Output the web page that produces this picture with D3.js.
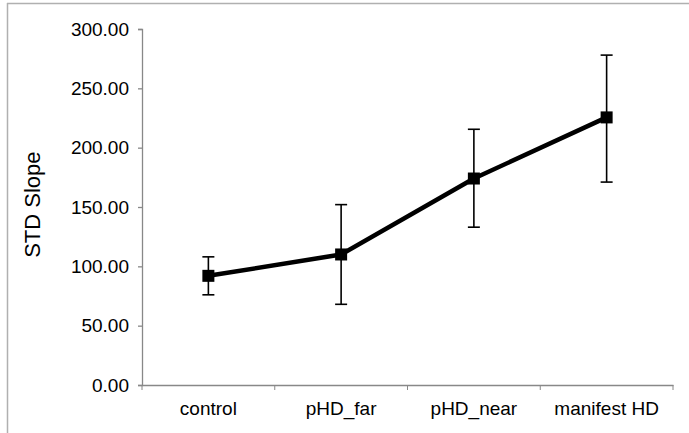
<!DOCTYPE html>
<html>
<head>
<meta charset="utf-8">
<script src="https://cdn.jsdelivr.net/npm/d3@7"></script>
<style>
  body { margin: 0; background: #fff; }
  text { font-family: "Liberation Sans", Arial, sans-serif; fill: #000; }
</style>
</head>
<body>
<svg width="689" height="433"></svg>
<script>
var groups = ["control", "pHD_far", "pHD_near", "manifest HD"];
var means  = [92, 110, 174, 225.5];
var upper  = [108, 152, 215.5, 278];
var lower  = [76, 68, 133, 171];
var yTicks = [0, 50, 100, 150, 200, 250, 300];

var svg = d3.select("svg"),
    width = +svg.attr("width"),
    height = +svg.attr("height");

var margin = {top: 29, right: 16, bottom: 48, left: 142};

// frame around the chart area (only top and left visible)
svg.append("line").attr("x1", 7).attr("x2", width).attr("y1", 3.5).attr("y2", 3.5)
    .attr("stroke", "#b0b0b0").attr("stroke-width", 1.5);
svg.append("line").attr("x1", 7.5).attr("x2", 7.5).attr("y1", 3).attr("y2", height)
    .attr("stroke", "#b0b0b0").attr("stroke-width", 1.5);

var x = d3.scaleBand()
    .domain(groups)
    .range([margin.left, width - margin.right]);

var y = d3.scaleLinear()
    .domain([0, 300])
    .range([height - margin.bottom, margin.top]);

// y axis
var yAxis = svg.append("g")
    .attr("transform", "translate(" + margin.left + ",0)")
    .call(d3.axisLeft(y).tickValues(yTicks).tickSize(4).tickPadding(9).tickFormat(d3.format(".2f")));
yAxis.selectAll("text").style("font-size", "19px");

// x axis with ticks between categories
var xAxis = svg.append("g")
    .attr("transform", "translate(0," + y(0) + ")")
    .call(d3.axisBottom(x).tickSize(0).tickPadding(17));
xAxis.selectAll("text").style("font-size", "19px");
xAxis.selectAll(".sep")
    .data(d3.range(groups.length + 1))
    .enter().append("line")
      .attr("x1", function(i) { return margin.left + i * x.step(); })
      .attr("x2", function(i) { return margin.left + i * x.step(); })
      .attr("y1", 0).attr("y2", 5)
      .attr("stroke", "#888");

svg.selectAll(".domain, .tick line").attr("stroke", "#888").attr("stroke-width", 1.3);

// axis title
svg.append("text")
    .attr("transform", "translate(40," + y(152) + ") rotate(-90)")
    .attr("text-anchor", "middle")
    .style("font-size", "22px")
    .text("STD Slope");

var cx = function(i) { return x(groups[i]) + x.bandwidth() / 2; };

// error bars
var err = svg.append("g").attr("stroke", "#000").attr("stroke-width", 1.6);
groups.forEach(function(g, i) {
  err.append("line").attr("x1", cx(i)).attr("x2", cx(i)).attr("y1", y(upper[i])).attr("y2", y(lower[i]));
  err.append("line").attr("x1", cx(i) - 6).attr("x2", cx(i) + 6).attr("y1", y(upper[i])).attr("y2", y(upper[i]));
  err.append("line").attr("x1", cx(i) - 6).attr("x2", cx(i) + 6).attr("y1", y(lower[i])).attr("y2", y(lower[i]));
});

// line
var line = d3.line()
    .x(function(d, i) { return cx(i); })
    .y(function(d) { return y(d); });

svg.append("path")
    .datum(means)
    .attr("d", line)
    .attr("fill", "none")
    .attr("stroke", "#000")
    .attr("stroke-width", 4.5)
    .attr("stroke-linejoin", "round");

// square markers
svg.selectAll(".pt")
    .data(means)
    .enter().append("rect")
      .attr("x", function(d, i) { return cx(i) - 6; })
      .attr("y", function(d) { return y(d) - 6; })
      .attr("width", 12)
      .attr("height", 12)
      .attr("fill", "#000");
</script>
</body>
</html>
